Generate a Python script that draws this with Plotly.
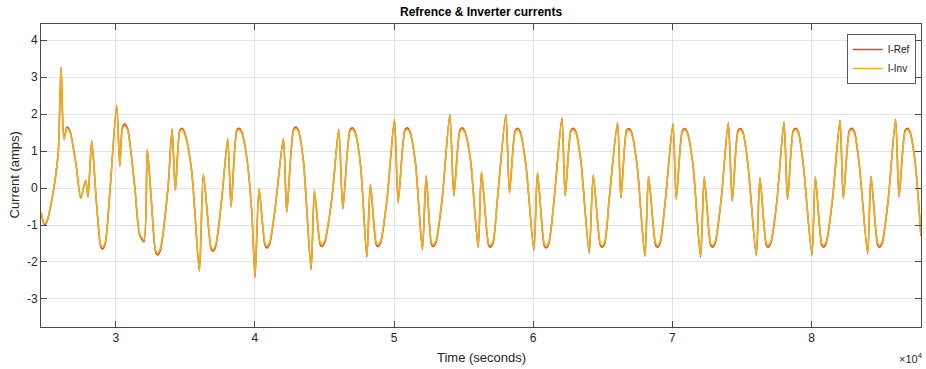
import plotly.graph_objects as go

# ---- data ----
time_s = [
    24630, 24900, 25130, 25280, 25640, 25880, 26070, 26280, 26500, 26700,
    26930, 27170, 27480, 27840, 28010, 28275, 28605, 28910, 29040, 29240, 29570,
    30070, 30290, 30480, 30650, 30850, 31010, 31370, 31725, 32035, 32270, 32560,
    32860, 32990, 33190, 33760,
    34050, 34285, 34600, 34770, 34980, 35460, 36010, 36300, 36840, 36970, 37170, 37620,
    38050, 38290, 38690, 38860, 39060, 39420, 39780, 40010, 40300, 40725, 40855, 41055, 41450,
    42050, 42290, 42770, 42940, 43140, 43490, 44040, 44280, 44680, 44810, 45010, 45530,
    46030, 46320, 46820, 46990, 47190, 47590, 48045, 48300, 48705, 48835, 49035, 49500,
    50030, 50295, 50770, 50940, 51140, 51540, 52040, 52310, 52680, 52810, 53010, 53460,
    54010, 54300, 54725, 54895, 55095, 55495, 56045, 56285, 56780, 56910, 57110, 57435,
    58035, 58295, 58700, 58870, 59070, 59475, 60050, 60310, 60785, 60915, 61115, 61510,
    62065, 62300, 62705, 62875, 63075, 63430, 64025, 64315, 64810, 64940, 65140, 65465,
    66060, 66305, 66700, 66870, 67070, 67480, 68030, 68290, 68785, 68915, 69115, 69510,
    70045, 70280, 70705, 70875, 71075, 71480, 72030, 72295, 72740, 72870, 73070, 73515,
    74020, 74305, 74710, 74880, 75080, 75435, 76030, 76295, 76740, 76870, 77070, 77500,
    78025, 78280, 78685, 78855, 79055, 79410, 80035, 80275, 80720, 80850, 81050, 81515,
    82050, 82285, 82715, 82885, 83085, 83435, 84035, 84275, 84745, 84875, 85075, 85520,
    86045, 86290, 86715, 86885, 87085, 87440, 87870,
]

i_inv = [
    -0.65, -0.96, -0.80, -0.55, 0.21, 1.02, 3.27, 1.31, 1.61, 1.52,
    1.11, 0.57, -0.24, 0.19, -0.22, 1.28, -0.33, -1.52, -1.60, -1.48, -0.15,
    2.22, 0.59, 1.60, 1.68, 1.57, 1.21, 0.03, -1.23, -1.40, 1.04, -0.33,
    -1.68, -1.76, -1.65, 0.03,
    1.58, -0.06, 1.51, 1.58, 1.43, 0.44, -2.23, 0.37, -1.58, -1.66, -1.55, -0.28,
    1.31, -0.51, 1.51, 1.58, 1.48, 0.80, -0.65, -2.39, -0.03, -1.50, -1.57, -1.47, -0.56,
    1.32, -0.65, 1.54, 1.61, 1.51, 0.71, -2.17, -0.08, -1.46, -1.53, -1.43, -0.28,
    1.57, -0.56, 1.52, 1.59, 1.49, 0.62, -1.84, 0.10, -1.46, -1.53, -1.43, -0.28,
    1.84, -0.39, 1.52, 1.59, 1.49, 0.66, -1.64, 0.33, -1.46, -1.53, -1.43, -0.28,
    1.97, -0.21, 1.52, 1.59, 1.49, 0.75, -1.58, 0.44, -1.48, -1.55, -1.45, -0.28,
    1.97, -0.13, 1.51, 1.58, 1.48, 0.62, -1.66, 0.42, -1.50, -1.57, -1.47, -0.28,
    1.88, -0.20, 1.51, 1.58, 1.48, 0.71, -1.73, 0.35, -1.48, -1.55, -1.45, -0.28,
    1.75, -0.26, 1.50, 1.57, 1.47, 0.55, -1.82, 0.32, -1.48, -1.55, -1.45, -0.28,
    1.72, -0.30, 1.50, 1.57, 1.47, 0.62, -1.84, 0.30, -1.48, -1.55, -1.45, -0.28,
    1.75, -0.35, 1.50, 1.57, 1.47, 0.62, -1.80, 0.28, -1.48, -1.55, -1.45, -0.40,
    1.77, -0.31, 1.51, 1.58, 1.48, 0.62, -1.79, 0.30, -1.48, -1.55, -1.45, -0.28,
    1.82, -0.28, 1.51, 1.58, 1.48, 0.62, -1.75, 0.32, -1.48, -1.55, -1.45, -0.28,
    1.84, -0.24, 1.51, 1.58, 1.48, 0.71, -1.28,
]

i_ref = [
    -0.68, -1.00, -0.83, -0.57, 0.20, 1.02, 3.27, 1.33, 1.65, 1.56,
    1.14, 0.58, -0.27, 0.21, -0.24, 1.28, -0.34, -1.56, -1.65, -1.52, -0.16,
    2.24, 0.59, 1.64, 1.73, 1.61, 1.25, 0.03, -1.27, -1.45, 1.04, -0.35,
    -1.73, -1.81, -1.70, 0.02,
    1.60, -0.06, 1.55, 1.62, 1.47, 0.46, -2.25, 0.37, -1.63, -1.71, -1.60, -0.29,
    1.33, -0.51, 1.55, 1.62, 1.52, 0.82, -0.66, -2.42, -0.03, -1.55, -1.62, -1.52, -0.57,
    1.34, -0.65, 1.58, 1.65, 1.55, 0.73, -2.20, -0.08, -1.51, -1.58, -1.48, -0.29,
    1.59, -0.56, 1.56, 1.63, 1.53, 0.64, -1.87, 0.10, -1.51, -1.58, -1.48, -0.29,
    1.86, -0.39, 1.56, 1.63, 1.53, 0.68, -1.67, 0.33, -1.51, -1.58, -1.48, -0.29,
    1.99, -0.21, 1.56, 1.63, 1.53, 0.77, -1.61, 0.44, -1.53, -1.60, -1.50, -0.29,
    1.99, -0.13, 1.55, 1.62, 1.52, 0.64, -1.69, 0.42, -1.55, -1.62, -1.52, -0.29,
    1.90, -0.20, 1.55, 1.62, 1.52, 0.73, -1.76, 0.35, -1.53, -1.60, -1.50, -0.29,
    1.77, -0.26, 1.54, 1.61, 1.51, 0.57, -1.85, 0.32, -1.53, -1.60, -1.50, -0.29,
    1.74, -0.30, 1.54, 1.61, 1.51, 0.64, -1.87, 0.30, -1.53, -1.60, -1.50, -0.29,
    1.77, -0.35, 1.54, 1.61, 1.51, 0.64, -1.83, 0.28, -1.53, -1.60, -1.50, -0.41,
    1.79, -0.31, 1.55, 1.62, 1.52, 0.64, -1.82, 0.30, -1.53, -1.60, -1.50, -0.29,
    1.84, -0.28, 1.55, 1.62, 1.52, 0.64, -1.78, 0.32, -1.53, -1.60, -1.50, -0.29,
    1.86, -0.24, 1.55, 1.62, 1.52, 0.73, -1.30,
]

x_tick_vals = [30000, 40000, 50000, 60000, 70000, 80000]
x_tick_text = ["3", "4", "5", "6", "7", "8"]
y_tick_vals = [-3, -2, -1, 0, 1, 2, 3, 4]
y_tick_text = ["-3", "-2", "-1", "0", "1", "2", "3", "4"]

x_range = [24630, 87870]
y_range = [-3.76, 4.44]

FONT = "Liberation Sans, Arial, Helvetica, sans-serif"
TXT = "#262626"
AX = "#4a4a4a"
GRID = "#e3e3e3"

fig = go.Figure()
fig.add_trace(go.Scatter(
    x=time_s, y=i_ref, mode="lines", name="I-Ref",
    line=dict(color="#D95319", width=1.6, shape="spline", smoothing=0.7),
))
fig.add_trace(go.Scatter(
    x=time_s, y=i_inv, mode="lines", name="I-Inv",
    line=dict(color="#EDB120", width=1.6, shape="spline", smoothing=0.7),
))

fig.update_layout(
    width=926, height=369,
    margin=dict(l=41, r=5, t=24, b=42),
    paper_bgcolor="white", plot_bgcolor="white",
    font=dict(family=FONT, color=TXT, size=11),
    showlegend=True,
    legend=dict(
        x=0.994, y=0.967, xanchor="right", yanchor="top",
        bgcolor="white", bordercolor="#5a5a5a", borderwidth=1,
        font=dict(size=10, color="#1a1a1a"),
        itemwidth=30, tracegroupgap=0,
    ),
    xaxis=dict(
        range=x_range, tickvals=x_tick_vals, ticktext=x_tick_text,
        showgrid=True, gridcolor=GRID, gridwidth=1,
        showline=True, linecolor=AX, linewidth=1, mirror="ticks",
        ticks="inside", ticklen=6, tickcolor=AX,
        tickfont=dict(size=12, color=TXT), zeroline=False,
    ),
    yaxis=dict(
        range=y_range, tickvals=y_tick_vals, ticktext=y_tick_text,
        showgrid=True, gridcolor=GRID, gridwidth=1,
        showline=True, linecolor=AX, linewidth=1, mirror="ticks",
        ticks="inside", ticklen=6, tickcolor=AX,
        tickfont=dict(size=12, color=TXT), zeroline=False,
    ),
    annotations=[
        dict(text="<b>Refrence & Inverter currents</b>", x=0.5, y=1,
             xref="paper", yref="paper", xanchor="center", yanchor="middle",
             yshift=12, showarrow=False,
             font=dict(size=12, color="#000000")),
        dict(text="Time (seconds)", x=0.5, xref="paper", y=0, yref="paper",
             xanchor="center", yanchor="middle",
             yshift=-30, showarrow=False, font=dict(size=13, color=TXT)),
        dict(text="Current (amps)", x=0, xref="paper", y=0.5, yref="paper",
             xanchor="center", yanchor="middle",
             xshift=-27, textangle=-90, showarrow=False,
             font=dict(size=13, color=TXT)),
        dict(text="×10<sup>4</sup>", x=1, xref="paper", y=0, yref="paper",
             xanchor="right", yanchor="middle", yshift=-31, xshift=4,
             showarrow=False, font=dict(size=11, color=TXT)),
    ],
)

fig.write_html("out.html")
